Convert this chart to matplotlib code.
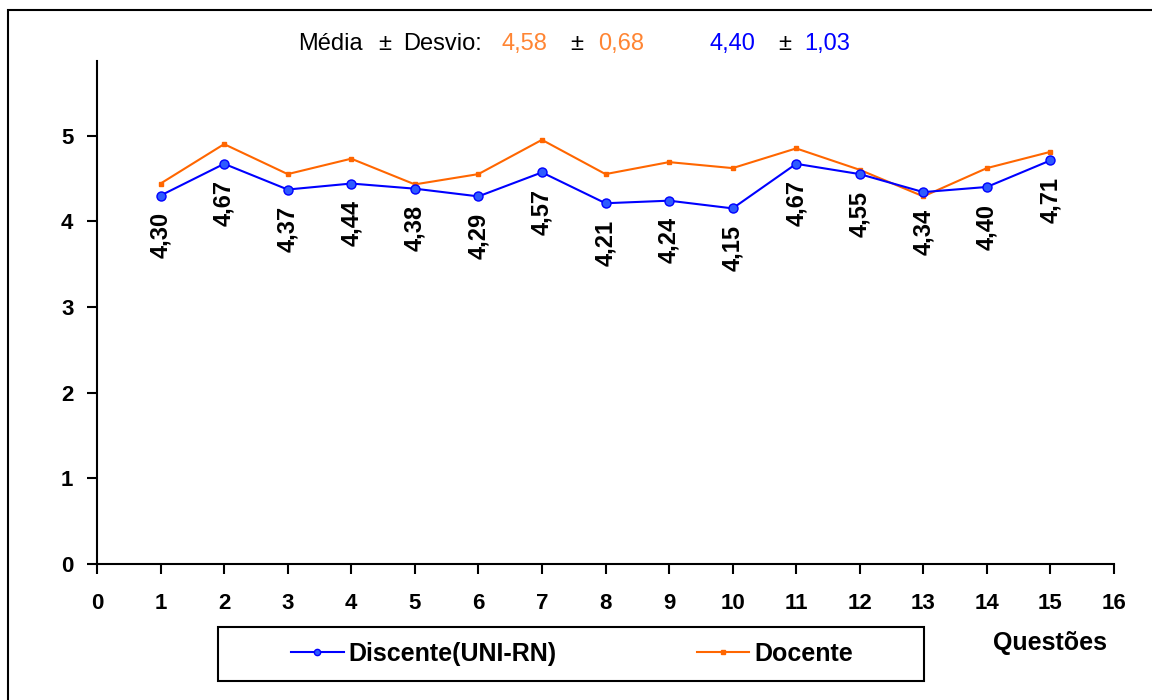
import matplotlib
matplotlib.use("Agg")
import matplotlib.pyplot as plt
from matplotlib.lines import Line2D
from matplotlib.patches import Rectangle

plt.rcParams["font.family"] = ["Liberation Sans", "DejaVu Sans"]

# questions 1..15
questoes = list(range(1, 16))
discente = [4.30, 4.67, 4.37, 4.44, 4.38, 4.29, 4.57, 4.21, 4.24, 4.15,
            4.67, 4.55, 4.34, 4.40, 4.71]
docente = [4.44, 4.90, 4.55, 4.73, 4.43, 4.55, 4.95, 4.55, 4.69, 4.62,
           4.85, 4.60, 4.29, 4.62, 4.81]

media_docente, desvio_docente = "4,58", "0,68"
media_discente, desvio_discente = "4,40", "1,03"

BLUE = "#0000FF"
ORANGE = "#FF6600"
ORANGE_TXT = "#FF8533"

W, H = 1152, 700
fig = plt.figure(figsize=(W / 100, H / 100), dpi=100)

# outer frame (runs off the right and bottom edges like the source)
fig.patches.append(Rectangle((8 / W, -0.05), 1.2, 1 - 10 / H + 0.05,
                             transform=fig.transFigure, fill=False,
                             edgecolor="black", linewidth=1.5))

ax = fig.add_axes([97 / W, 1 - 564 / H, (1114 - 97) / W, (564 - 61) / H])

ax.plot(questoes, discente, color=BLUE, lw=1.5, marker="o", ms=6.5,
        mfc="#2E5BFF", mec=BLUE, zorder=3)
ax.plot(questoes, docente, color=ORANGE, lw=1.5, marker="s", ms=3,
        mfc=ORANGE, mec=ORANGE, zorder=2)

for q, v in zip(questoes, discente):
    ax.annotate(f"{v:.2f}".replace(".", ","), (q, v), xytext=(0, -12),
                textcoords="offset points", rotation=90, ha="center",
                va="top", fontsize=17, fontweight="bold")

ax.set_xlim(0, 16)
ax.set_ylim(0, 5.87)
ax.set_xticks(range(0, 17))
ax.set_yticks(range(0, 6))
for s in ("top", "right"):
    ax.spines[s].set_visible(False)
for s in ("left", "bottom"):
    ax.spines[s].set_linewidth(1.5)
ax.tick_params(axis="x", direction="out", length=7, width=1.5, pad=14,
               labelsize=16)
ax.tick_params(axis="y", direction="out", length=7, width=1.5, pad=10,
               labelsize=16)
for lab in ax.get_xticklabels() + ax.get_yticklabels():
    lab.set_fontweight("bold")

# header with mean +- std
y_head = 1 - 44 / H
parts = [("Média", 298, "black"), ("±", 378, "black"), ("Desvio:", 403, "black"),
         (media_docente, 502, ORANGE_TXT), ("±", 570, "black"),
         (desvio_docente, 598, ORANGE_TXT), (media_discente, 710, BLUE),
         ("±", 778, "black"), (desvio_discente, 804, BLUE)]
for txt, xp, col in parts:
    fig.text(xp / W, y_head, txt, color=col, fontsize=17, ha="left",
             va="center")

fig.text(1050 / W, 1 - 643 / H, "Questões", fontsize=18, fontweight="bold",
         ha="center", va="center")

# legend box drawn by hand, entries centred inside it
fig.patches.append(Rectangle((218 / W, 1 - 681 / H), 706 / W, 54 / H,
                             transform=fig.transFigure, fill=False,
                             edgecolor="black", linewidth=1.5))
handles = [Line2D([], [], color=BLUE, lw=1.5, marker="o", ms=4.5,
                  mfc="#2E5BFF", mec=BLUE),
           Line2D([], [], color=ORANGE, lw=1.5, marker="s", ms=2.5,
                  mfc=ORANGE, mec=ORANGE)]
fig.legend(handles, ["Discente(UNI-RN)", "Docente"], loc="center",
           bbox_to_anchor=(572 / W, 1 - 654 / H), ncol=2, frameon=False,
           handlelength=2.1, handletextpad=0.2, columnspacing=5.6,
           borderaxespad=0, prop={"weight": "bold", "size": 18})

fig.savefig("out.png", dpi=100)
